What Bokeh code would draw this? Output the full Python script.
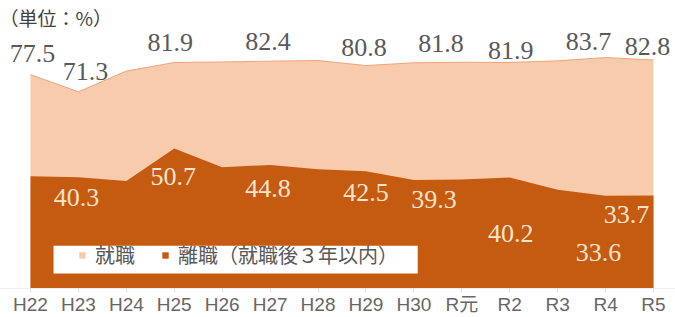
from bokeh.plotting import figure
from bokeh.models import (ColumnDataSource, Legend, LegendItem, BoxAnnotation,
                          FixedTicker, Range1d, LabelSet)
from bokeh.embed import file_html
from bokeh.resources import INLINE

# ---------------- data ----------------
categories = ["H22", "H23", "H24", "H25", "H26", "H27", "H28", "H29", "H30",
              "R元", "R2", "R3", "R4", "R5"]
employed = [77.5, 71.3, 78.8, 81.9, 82.1, 82.4, 82.6, 80.8, 81.8, 82.0, 81.9, 82.5, 83.7, 82.8]
separated = [40.7, 40.3, 39.0, 50.7, 43.9, 44.8, 43.2, 42.5, 39.3, 39.5, 40.2, 35.8, 33.6, 33.7]

top_label_cats = ["H22", "H23", "H25", "H27", "H29", "H30", "R2", "R4", "R5"]
bottom_label_cats = ["H23", "H25", "H27", "H29", "H30", "R2", "R4", "R5"]

unit_text = "（単位：%）"
series_names = ["就職", "離職（就職後３年以内）"]

# label nudges (screen px) - layout only
top_dx = [2, 7, -4, -2, -2, 27, 1, -17, -6]
top_dy = [21, 20, 20, 20, 18, 19, 12, 16, 14]
bot_dx = [-2, -1, -2, 0, 20, 1, -7, -27]
bot_dy = [-20, -28, -24, -21, -19, -56, -57, -19]

PEACH = "#F8CBAD"
BROWN = "#C55A11"
GRAY = "#595959"

xs = list(range(len(categories)))
src = ColumnDataSource(dict(x=xs, emp=employed, sep=separated))

p = figure(width=675, height=317, output_backend="svg", toolbar_location=None,
           x_range=Range1d(-0.626, 13.459), y_range=Range1d(0, 93.5),
           y_axis_location=None, title=unit_text,
           min_border_left=0, min_border_right=0, min_border_top=30, min_border_bottom=27)
p.title.text_font = "Noto Sans CJK JP"
p.title.text_font_size = "19px"
p.title.text_font_style = "normal"
p.title.text_color = "#404040"
p.title.standoff = 0
p.title.offset = -1
p.outline_line_color = None
p.xgrid.visible = False
p.ygrid.visible = False
p.background_fill_color = "white"

r_emp = p.varea(x="x", y1=0, y2="emp", source=src, fill_color=PEACH)
p.line(x="x", y="emp", source=src, line_color="#EDA47C", line_width=1)
r_sep = p.varea(x="x", y1=0, y2="sep", source=src, fill_color=BROWN)

# value labels
def label_src(cats, series, dx, dy):
    idx = [categories.index(c) for c in cats]
    return ColumnDataSource(dict(x=idx, y=[series[i] for i in idx],
                                 t=[f"{series[i]:.1f}" for i in idx], dx=dx, dy=dy))

top_ls = LabelSet(x="x", y="y", text="t", x_offset="dx", y_offset="dy",
                  source=label_src(top_label_cats, employed, top_dx, top_dy),
                  text_align="center", text_baseline="middle",
                  text_font="Liberation Sans", text_font_size="26px", text_color=GRAY)
bot_ls = LabelSet(x="x", y="y", text="t", x_offset="dx", y_offset="dy",
                  source=label_src(bottom_label_cats, separated, bot_dx, bot_dy),
                  text_align="center", text_baseline="middle",
                  text_font="Liberation Sans", text_font_size="26px", text_color="#FCE4D0")
p.add_layout(top_ls)
p.add_layout(bot_ls)

# legend box + legend
box = BoxAnnotation(left=0.48, right=8.08, bottom=5.4, top=15.5,
                    fill_color="white", fill_alpha=1.0, line_color=None)
p.add_layout(box)
legend = Legend(items=[LegendItem(label=series_names[0], renderers=[r_emp]),
                       LegendItem(label=series_names[1], renderers=[r_sep])],
                orientation="horizontal", location=(78, 19), padding=0, margin=0,
                spacing=26, glyph_width=8, glyph_height=8, label_standoff=9,
                label_height=20, label_text_font="Noto Sans CJK JP",
                label_text_font_size="20px", label_text_color=GRAY,
                background_fill_alpha=0, border_line_alpha=0)
p.add_layout(legend)

ax = p.xaxis[0]
ax.ticker = FixedTicker(ticks=xs)
ax.major_label_overrides = {i: c for i, c in enumerate(categories)}
ax.major_label_text_font = "Liberation Sans, Noto Sans CJK JP"
ax.major_label_text_font_size = "19px"
ax.major_label_text_color = "#666666"
ax.major_label_standoff = 1
ax.major_tick_in = 0
ax.major_tick_out = 4
ax.major_tick_line_color = "#E0E0E0"
ax.minor_tick_line_color = None
ax.axis_line_color = "#EEEEEE"

open("out.html", "w").write(file_html(p, INLINE))
